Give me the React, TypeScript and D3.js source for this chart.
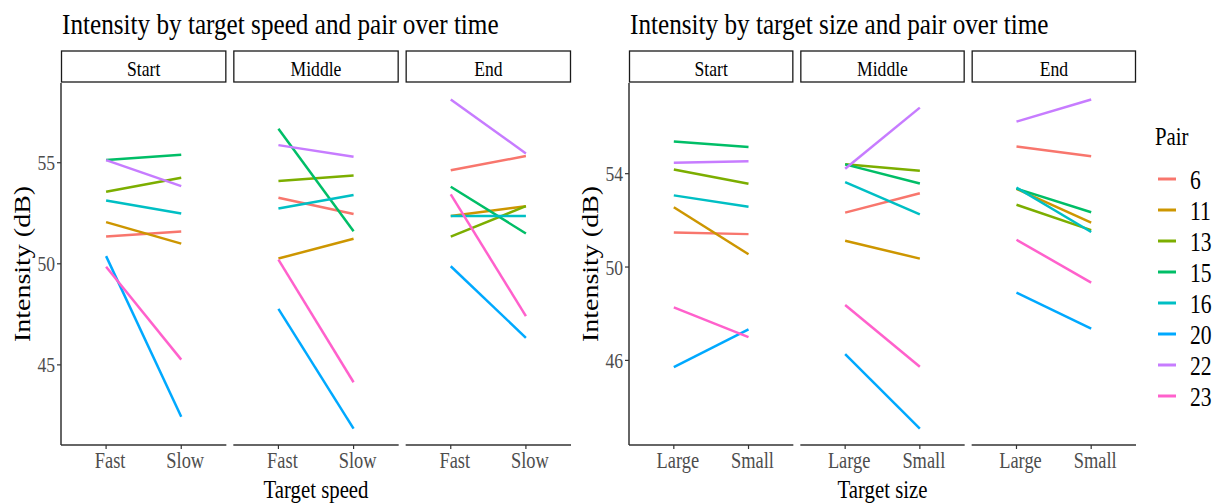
import React from "react";
import * as d3 from "d3";

// pairs (legend order) and their ggplot hue colours
const pairs = ["6", "11", "13", "15", "16", "20", "22", "23"];
const pairColors = ["#F8766D", "#CD9600", "#7CAE00", "#00BE67", "#00BFC4", "#00A9FF", "#C77CFF", "#FF61CC"];
const times = ["Start", "Middle", "End"];

// target speed chart, values per pair in the order above
const speedLevels = ["Fast", "Slow"];
const speedStartFast = [51.35, 52.06, 53.56, 55.13, 53.13, 50.38, 55.13, 49.85];
const speedStartSlow = [51.6, 51.0, 54.26, 55.4, 52.49, 42.43, 53.84, 45.26];
const speedMiddleFast = [53.27, 50.26, 54.09, 56.68, 52.74, 47.77, 55.87, 50.21];
const speedMiddleSlow = [52.46, 51.24, 54.37, 51.61, 53.4, 41.85, 55.3, 44.14];
const speedEndFast = [54.63, 52.36, 51.34, 53.81, 52.36, 49.88, 58.13, 53.43];
const speedEndSlow = [55.33, 52.85, 52.85, 51.5, 52.36, 46.34, 55.46, 47.41];
const speedTicks = [45, 50, 55];

// target size chart
const sizeLevels = ["Large", "Small"];
const sizeStartLarge = [51.48, 52.56, 54.18, 55.38, 53.07, 45.71, 54.47, 48.27];
const sizeStartSmall = [51.41, 50.55, 53.57, 55.14, 52.58, 47.33, 54.53, 47.0];
const sizeMiddleLarge = [52.33, 51.13, 54.4, 54.4, 53.64, 46.27, 54.21, 48.37];
const sizeMiddleSmall = [53.16, 50.36, 54.13, 53.58, 52.26, 43.08, 56.83, 45.73];
const sizeEndLarge = [55.16, 53.35, 52.67, 53.36, 53.4, 48.9, 56.23, 51.17];
const sizeEndSmall = [54.75, 51.9, 51.58, 52.35, 51.5, 47.36, 57.18, 49.33];
const sizeTicks = [46, 50, 54];

const FONT = "'Liberation Serif', 'Times New Roman', serif";

// text in the picture is squeezed horizontally
const T = ({ x, y, size, anchor = "start", fill = "#000", rotate = false, sq = 0.8, children }: any) => (
  <text
    transform={`translate(${x},${y}) scale(${sq},1)${rotate ? " rotate(-90)" : ""}`}
    fontFamily={FONT}
    fontSize={size}
    textAnchor={anchor}
    fill={fill}
  >
    {children}
  </text>
);

const top = 83;
const bottom = 445;
const gap = 7;

const Panel = ({ x0, x1, title, xTitle, yTitleX, levels, series, ticks }: any) => {
  const all = series.flat(2);
  const [mn, mx] = d3.extent(all) as [number, number];
  const pad = (mx - mn) * 0.05;
  const y = d3.scaleLinear().domain([mn - pad, mx + pad]).range([bottom, top]);
  const fw = (x1 - x0 - 2 * gap) / 3;
  const facet = d3.scaleBand().domain(times).range([x0, x1]).paddingInner(gap / (fw + gap));
  const x = d3.scaleLinear().domain([0.4, 2.6]).range([0, facet.bandwidth()]);
  const line = d3.line<[number, number]>().x((d) => d[0]).y((d) => d[1]);

  return (
    <g>
      <T x={x0 + 1} y={34} size={30} sq={0.84}>{title}</T>
      {times.map((t, ti) => {
        const fx = facet(t) as number;
        const bw = facet.bandwidth();
        const [a, b] = series[ti];
        return (
          <g key={t}>
            <rect x={fx + 0.5} y={51} width={bw - 1} height={31} fill="#fff" stroke="#1a1a1a" strokeWidth={1.3} />
            <T x={fx + bw / 2} y={76} size={22} anchor="middle">{t}</T>
            {pairs.map((p, pi) => (
              <path
                key={p}
                d={line([[fx + x(1), y(a[pi])], [fx + x(2), y(b[pi])]]) as string}
                stroke={pairColors[pi]}
                strokeWidth={2.5}
                fill="none"
              />
            ))}
            <line x1={fx} x2={fx + bw} y1={bottom} y2={bottom} stroke="#333" strokeWidth={1.5} />
            {levels.map((l: string, li: number) => (
              <g key={l}>
                <line x1={fx + x(li + 1)} x2={fx + x(li + 1)} y1={bottom} y2={bottom + 4} stroke="#333" strokeWidth={1.2} />
                <T x={fx + x(li + 1) + 4} y={468} size={23} anchor="middle" fill="#4d4d4d">{l}</T>
              </g>
            ))}
          </g>
        );
      })}
      <line x1={x0} x2={x0} y1={top} y2={bottom} stroke="#333" strokeWidth={1.5} />
      {ticks.map((tk: number) => (
        <g key={tk}>
          <line x1={x0 - 4} x2={x0} y1={y(tk)} y2={y(tk)} stroke="#333" strokeWidth={1.2} />
          <T x={x0 - 6} y={y(tk) + 7.5} size={22} anchor="end" fill="#4d4d4d">{tk}</T>
        </g>
      ))}
      <T x={yTitleX} y={(top + bottom) / 2} size={28} anchor="middle" rotate>Intensity (dB)</T>
      <T x={(x0 + x1) / 2} y={498} size={26} anchor="middle">{xTitle}</T>
    </g>
  );
};

export default function App() {
  const legendY = d3.scalePoint().domain(pairs).range([179, 396]);
  return (
    <svg width={1220} height={504} style={{ position: "absolute", left: 0, top: 0, background: "#fff" }}>
      <rect width={1220} height={504} fill="#fff" />
      <Panel
        x0={61}
        x1={571}
        title="Intensity by target speed and pair over time"
        xTitle="Target speed"
        yTitleX={30}
        levels={speedLevels}
        ticks={speedTicks}
        series={[
          [speedStartFast, speedStartSlow],
          [speedMiddleFast, speedMiddleSlow],
          [speedEndFast, speedEndSlow],
        ]}
      />
      <Panel
        x0={629}
        x1={1136}
        title="Intensity by target size and pair over time"
        xTitle="Target size"
        yTitleX={598}
        levels={sizeLevels}
        ticks={sizeTicks}
        series={[
          [sizeStartLarge, sizeStartSmall],
          [sizeMiddleLarge, sizeMiddleSmall],
          [sizeEndLarge, sizeEndSmall],
        ]}
      />
      <g>
        <T x={1155} y={145} size={26}>Pair</T>
        {pairs.map((p, i) => (
          <g key={p}>
            <line x1={1158} x2={1176} y1={legendY(p)} y2={legendY(p)} stroke={pairColors[i]} strokeWidth={3} />
            <T x={1190} y={(legendY(p) as number) + 9.5} size={27}>{p}</T>
          </g>
        ))}
      </g>
    </svg>
  );
}
